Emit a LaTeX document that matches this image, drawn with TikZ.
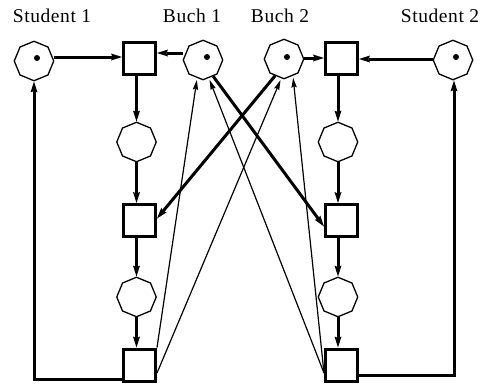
\documentclass[tikz,border=0pt]{standalone}
\usepackage{fontspec}
\setmainfont{Liberation Serif}[LetterSpace=3]
\usetikzlibrary{shapes.geometric,arrows.meta}

\begin{document}
\begin{tikzpicture}[x=1pt,y=-1pt,
  place/.style={draw, regular polygon, regular polygon sides=8,
    shape border rotate=22.5, minimum size=39.5pt, inner sep=0pt,
    line width=1.3pt},
  trans/.style={draw, rectangle, minimum size=32pt, inner sep=0pt,
    line width=3pt},
  token/.style={fill, circle, minimum size=6pt, inner sep=0pt},
  arc/.style={line width=3pt,
    -{Stealth[length=11pt,width=7pt,inset=1.5pt,line width=0pt]}},
  thinarc/.style={line width=1.2pt,
    -{Stealth[length=10pt,width=5.5pt,inset=1.5pt,line width=0pt]},
    shorten >=2pt},
  lbl/.style={anchor=base, inner sep=0pt,
    font=\fontsize{19.5}{22}\selectfont}]

\useasboundingbox (0,0) rectangle (482,383);

% labels
\node[lbl] (L1) at (52,22.5) {Student 1};
\node[lbl] (L2) at (192,22.5) {Buch 1};
\node[lbl] (L3) at (280,22.5) {Buch 2};
\node[lbl] (L4) at (440,22.5) {Student 2};

% top row
\node[place] (S1) at (34,61) {};
\node[trans] (T1) at (139.5,58.5) {};
\node[place] (B1) at (203,60) {};
\node[place] (B2) at (284,59) {};
\node[trans] (T2) at (341.5,58.5) {};
\node[place] (S2) at (453,60) {};

% tokens
\node[token] (k1) at (37,58) {};
\node[token] (k2) at (207,57) {};
\node[token] (k3) at (287,57) {};
\node[token] (k4) at (456,57) {};

% left column
\node[place] (PL1) at (136.5,142) {};
\node[trans] (TL2) at (139.5,220.5) {};
\node[place] (PL2) at (136.5,297) {};
\node[trans] (TL3) at (139.5,365) {};

% right column
\node[place] (PR1) at (338,142) {};
\node[trans] (TR2) at (341.5,220.5) {};
\node[place] (PR2) at (338,297) {};
\node[trans] (TR3) at (341.5,365) {};

% inputs of the first transitions
\draw[arc] (S1.east |- 0,57) -- (T1.west |- 0,57);
\draw[arc] (B1.west |- 0,53) -- (T1.east |- 0,53);
\draw[arc] (B2.east |- 0,58) -- (T2.west |- 0,58);
\draw[arc] (S2.west |- 0,59) -- (T2.east |- 0,59);

% left chain
\draw[arc] (T1.south -| PL1) -- (PL1.north);
\draw[arc] (PL1.south) -- (TL2.north -| PL1);
\draw[arc] (TL2.south -| PL2) -- (PL2.north);
\draw[arc] (PL2.south) -- (TL3.north -| PL2);

% right chain
\draw[arc] (T2.south -| PR1) -- (PR1.north);
\draw[arc] (PR1.south) -- (TR2.north -| PR1);
\draw[arc] (TR2.south -| PR2) -- (PR2.north);
\draw[arc] (PR2.south) -- (TR3.north -| PR2);

% returning the students
\coordinate (c1) at (34,379);
\coordinate (c2) at (454,375);
\draw[arc] (TL3.west |- c1) -- (c1) -- (S1.south);
\draw[arc] (TR3.east |- c2) -- (c2) -- (S2.south -| c2);

% borrowing across
\draw[arc] (B1.-58) -- ([yshift=-6pt]TR2.west);
\draw[arc] (B2.-118) -- ([yshift=2pt]TL2.east);

% returning the books
\draw[thinarc] (TL3.north east) -- (B1.-108);
\draw[thinarc] ([yshift=-8pt]TL3.east) -- (B2.-98);
\draw[thinarc] ([yshift=-8pt]TR3.west) -- (B1.-72);
\draw[thinarc] ([yshift=-8pt]TR3.west) -- (B2.-62);

\end{tikzpicture}
\end{document}
